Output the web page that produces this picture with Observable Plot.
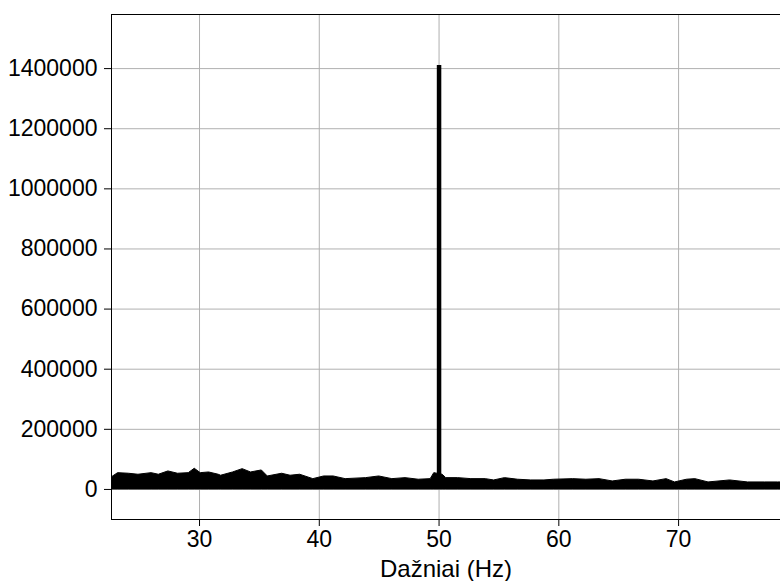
<!DOCTYPE html>
<html>
<head>
<meta charset="utf-8">
<script src="https://cdn.jsdelivr.net/npm/d3@7"></script>
<script src="https://cdn.jsdelivr.net/npm/@observablehq/plot@0.6"></script>
<style>
  html, body { margin: 0; padding: 0; background: white; }
  g[aria-label="x-axis label"] text { font-size: 24px; }
</style>
</head>
<body>
<div id="chart"></div>
<script>
// Noise-floor envelope of the spectrum (frequency in Hz, amplitude)
const freqHz = [22.6, 22.7, 23.2, 24.1, 24.9, 26.0, 26.6, 27.4, 28.2, 29.1, 29.6, 30.1, 30.8, 31.6, 31.8,
  32.8, 33.6, 34.3, 35.2, 35.7, 36.9, 37.6, 38.4, 39.5, 40.4, 41.2, 42.2, 43.9, 45.0, 46.1, 47.2,
  48.3, 49.3, 49.6, 50.3, 50.6, 51.6, 52.7, 53.9, 54.6, 55.5, 56.6, 57.7, 58.8, 59.6, 61.2, 62.3,
  63.4, 64.5, 65.6, 66.7, 67.9, 69.0, 69.7, 70.7, 71.4, 72.5, 74.3, 75.8, 77.2, 78.3, 78.6];
const amplitude = [40900, 40900, 54200, 52200, 48900, 54200, 48900, 59900, 52200, 54200, 68800, 54200, 56500, 48900, 45600,
  56500, 67500, 56500, 63200, 43200, 52200, 45600, 48900, 34300, 43200, 43200, 34300, 37600, 43200, 34300, 37600,
  32300, 34300, 54200, 48900, 37600, 37600, 34300, 34300, 29900, 37600, 32300, 29900, 29900, 32300, 34300, 32300,
  34300, 26600, 32300, 32300, 26600, 34300, 23300, 32300, 34300, 23300, 29900, 23300, 23300, 23300, 23300];

// The 50 Hz peak
const peakHz = [50];
const peakAmplitude = [1410000];

// Axes
const xTicks = [30, 40, 50, 60, 70];
const yTicks = [0, 200000, 400000, 600000, 800000, 1000000, 1200000, 1400000];
const xDomain = [22.65, 78.51];
const yDomain = [-100000, 1580000];
const xLabel = "Dažniai (Hz)";

const noise = freqHz.map((f, i) => ({hz: f, amp: amplitude[i]}));
const peak = peakHz.map((f, i) => ({hz: f, lo: 0, hi: peakAmplitude[i]}));

const grid = {stroke: "#b0b0b0", strokeOpacity: 1, strokeWidth: 1};

const chart = Plot.plot({
  width: 780,
  height: 581,
  marginLeft: 111,
  marginRight: 0,
  marginTop: 14,
  marginBottom: 62,
  style: {fontFamily: "'Liberation Sans', Arial, sans-serif", fontSize: "23px", color: "black", background: "white"},
  x: {domain: xDomain},
  y: {domain: yDomain},
  marks: [
    Plot.gridX(xTicks, grid),
    Plot.gridY(yTicks, grid),
    Plot.areaY(noise, {x: "hz", y: "amp", fill: "black", stroke: "black", strokeWidth: 1, clip: true}),
    Plot.ruleX(peak, {x: "hz", y1: "lo", y2: "hi", stroke: "black", strokeWidth: 4.5}),
    Plot.frame({anchor: "left", stroke: "black", strokeWidth: 1}),
    Plot.frame({anchor: "top", stroke: "black", strokeWidth: 1}),
    Plot.frame({anchor: "bottom", stroke: "black", strokeWidth: 1}),
    Plot.axisX(xTicks, {tickSize: 7, tickPadding: 4, label: xLabel, labelAnchor: "center", labelArrow: "none", labelOffset: 57}),
    Plot.axisY(yTicks, {tickSize: 7, tickPadding: 7, tickFormat: d3.format("d"), label: null})
  ]
});
document.getElementById("chart").appendChild(chart);
</script>
</body>
</html>
